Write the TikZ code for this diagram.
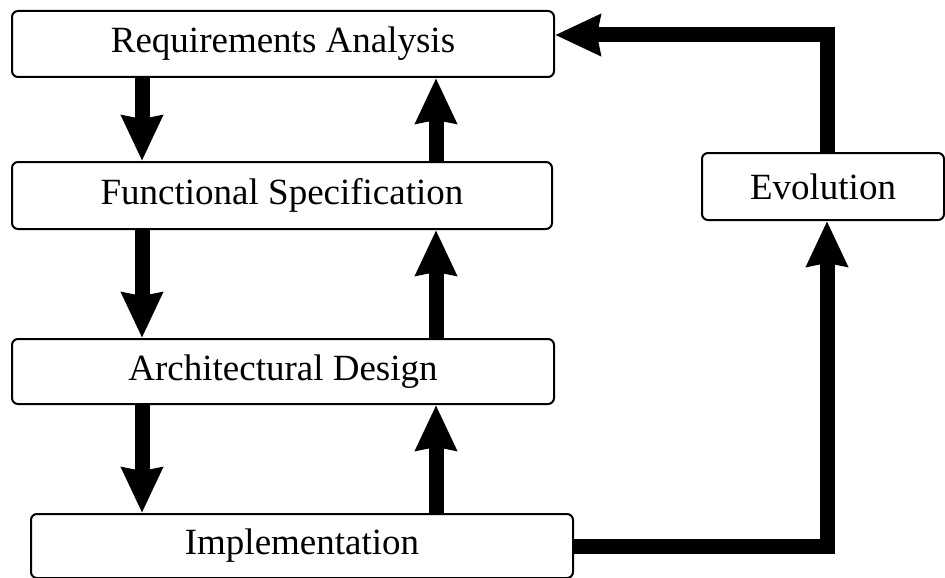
\documentclass[tikz,border=0pt]{standalone}
\usepackage{fontspec}
\setmainfont{Liberation Serif}
\usetikzlibrary{arrows.meta}

\tikzset{
  stage/.style={draw, line width=2pt, rounded corners=6pt, inner sep=0pt,
    font=\fontsize{37}{40}\selectfont},
  flow/.style={line width=15pt, line join=miter,
    -{Stealth[inset=3pt, width=40pt, length=45pt]}}
}

\begin{document}
\begin{tikzpicture}[x=1pt, y=-1pt]
  \useasboundingbox (0,0) rectangle (945,578);

  % process stages
  \node[stage, minimum width=542pt, minimum height=66pt] (req)  at (283,44)    {Requirements Analysis};
  \node[stage, minimum width=540pt, minimum height=67pt] (func) at (282,195.5) {Functional Specification};
  \node[stage, minimum width=542pt, minimum height=65pt] (arch) at (283,371.5) {Architectural Design};
  \node[stage, minimum width=542pt, minimum height=64pt] (impl) at (302,546)   {Implementation};
  \node[stage, minimum width=242pt, minimum height=67pt] (evol) at (823,186.5) {Evolution};

  % columns of the downward and upward arrows, and the feedback loop
  \coordinate (down) at (142,0);
  \coordinate (up)   at (436,0);
  \coordinate (loop) at (827,0);
  \coordinate (top)  at (0,35);

  % forward steps
  \draw[flow] (req.south  -| down) -- (func.north -| down);
  \draw[flow] (func.south -| down) -- (arch.north -| down);
  \draw[flow] (arch.south -| down) -- (impl.north -| down);

  % backward steps
  \draw[flow] (func.north -| up) -- (req.south  -| up);
  \draw[flow] (arch.north -| up) -- (func.south -| up);
  \draw[flow] (impl.north -| up) -- (arch.south -| up);

  % evolution loop
  \draw[flow] (impl.east) -- (impl.east -| loop) -- (evol.south -| loop);
  \draw[flow] (evol.north -| loop) -- (top -| loop) -- (req.east |- top);
\end{tikzpicture}
\end{document}
